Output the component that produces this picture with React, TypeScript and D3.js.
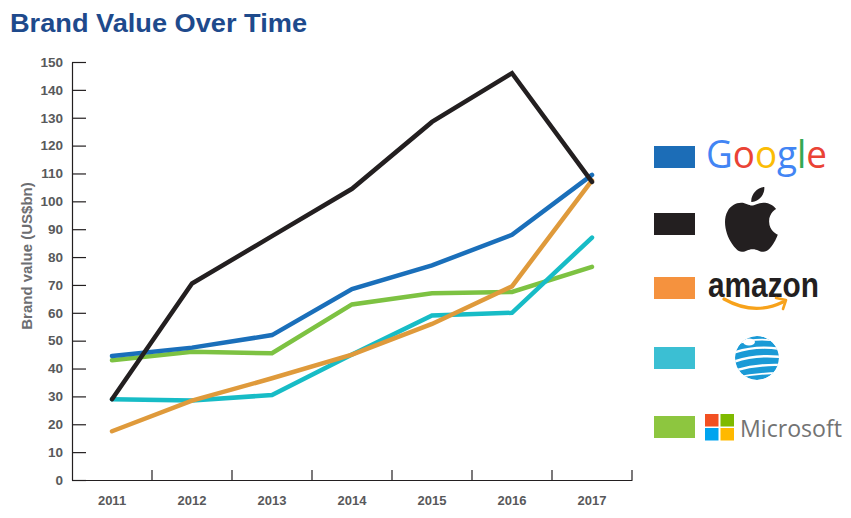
import React, { useRef, useEffect } from "react";
import * as d3 from "d3";

const years = ["2011", "2012", "2013", "2014", "2015", "2016", "2017"];
const google = [44.5, 47.5, 52, 68.5, 77, 88, 109.5];
const apple = [29, 70.5, 87.5, 104.5, 128.5, 146, 107];
const amazon = [17.5, 28.5, 36.5, 45, 56, 69.5, 107.5];
const att = [29, 28.5, 30.5, 45, 59, 60, 87];
const microsoft = [43, 46, 45.5, 63, 67, 67.5, 76.5];
const yTicks = [0, 10, 20, 30, 40, 50, 60, 70, 80, 90, 100, 110, 120, 130, 140, 150];

// drawing order: bottom first
const series = [
  { name: "Microsoft", values: microsoft, color: "#7dc242" },
  { name: "AT&T", values: att, color: "#17bcc6" },
  { name: "Google", values: google, color: "#1a6fba" },
  { name: "Amazon", values: amazon, color: "#df9a3b" },
  { name: "Apple", values: apple, color: "#231f20" },
];

const legendItems = [
  { name: "Google", color: "#1c6db7" },
  { name: "Apple", color: "#231f20" },
  { name: "Amazon", color: "#f5923e" },
  { name: "AT&T", color: "#3bbfd3" },
  { name: "Microsoft", color: "#8dc63f" },
];

const applePath =
  "M12.152 6.896c-.948 0-2.415-1.078-3.96-1.04-2.04.027-3.91 1.183-4.961 3.014-2.117 3.675-.546 9.103 1.519 12.09 1.013 1.454 2.208 3.09 3.792 3.039 1.52-.065 2.09-.987 3.935-.987 1.831 0 2.35.987 3.96.948 1.637-.026 2.676-1.48 3.676-2.948 1.156-1.688 1.636-3.325 1.662-3.415-.039-.013-3.182-1.221-3.22-4.857-.026-3.04 2.48-4.494 2.597-4.559-1.429-2.09-3.623-2.324-4.39-2.376-2-.156-3.675 1.09-4.61 1.09zM15.53 3.83c.843-1.012 1.4-2.427 1.245-3.83-1.207.052-2.662.805-3.532 1.818-.78.896-1.454 2.338-1.273 3.714 1.338.104 2.715-.688 3.559-1.701";

const W = 851;
const H = 518;
const x0 = 72, x1 = 632, yBottom = 480, yTop = 62;

export default function App() {
  const svgRef = useRef<SVGSVGElement | null>(null);

  const x = d3.scaleBand<string>().domain(years).range([x0, x1]);
  const y = d3.scaleLinear().domain([0, 150]).range([yBottom, yTop]);
  const cx = (yr: string) => (x(yr) ?? 0) + x.bandwidth() / 2;

  useEffect(() => {
    if (!svgRef.current) return;
    const svg = d3.select(svgRef.current);
    svg.selectAll(".axis").remove();

    // y axis: ticks point inward
    const yAxis = d3.axisLeft(y).tickValues(yTicks).tickSizeInner(-14).tickSizeOuter(0).tickPadding(9);
    const gy = svg.append("g").attr("class", "axis").attr("transform", `translate(${x0},0)`).call(yAxis);
    gy.selectAll("text")
      .attr("fill", "#58595b")
      .style("font-family", "Liberation Sans, Arial, sans-serif")
      .style("font-size", "13.5px")
      .style("font-weight", "bold");
    gy.selectAll("line,path").attr("stroke", "#231f20").attr("stroke-width", 1.2);

    // x axis: labels in band centers
    const xAxis = d3.axisBottom(x).tickSize(0).tickPadding(16);
    const gx = svg.append("g").attr("class", "axis").attr("transform", `translate(0,${yBottom})`).call(xAxis);
    gx.select(".domain").attr("stroke", "#231f20").attr("stroke-width", 1.2);
    gx.selectAll("text")
      .attr("fill", "#58595b")
      .style("font-family", "Liberation Sans, Arial, sans-serif")
      .style("font-size", "13px")
      .style("font-weight", "bold");

    // band boundary ticks
    svg.append("g").attr("class", "axis")
      .selectAll("line")
      .data(years)
      .join("line")
      .attr("x1", d => (x(d) ?? 0) + x.bandwidth())
      .attr("x2", d => (x(d) ?? 0) + x.bandwidth())
      .attr("y1", yBottom)
      .attr("y2", yBottom - 10)
      .attr("stroke", "#231f20")
      .attr("stroke-width", 1.2);
  }, []);

  const line = d3.line<number>()
    .x((_, i) => cx(years[i]))
    .y(d => y(d));

  const legendY = [157, 224, 288, 358, 427];

  return (
    <svg ref={svgRef} width={W} height={H} style={{ position: "absolute", left: 0, top: 0, background: "#fff" }}>
      <defs>
        <clipPath id="globe-clip">
          <circle cx={757} cy={358} r={22} />
        </clipPath>
      </defs>
      <text x={10} y={32} fill="#1e4a8c" textLength={297} lengthAdjust="spacingAndGlyphs"
        style={{ fontFamily: "Liberation Sans, Arial, sans-serif", fontSize: 26.5, fontWeight: "bold" }}>
        Brand Value Over Time
      </text>
      <text
        transform="translate(32,256) rotate(-90)"
        textAnchor="middle"
        fill="#6d6e71"
        style={{ fontFamily: "Liberation Sans, Arial, sans-serif", fontSize: 15, fontWeight: "bold" }}
      >
        Brand value (US$bn)
      </text>

      {series.map(s => (
        <path
          key={s.name}
          d={line(s.values) ?? ""}
          fill="none"
          stroke={s.color}
          strokeWidth={4.5}
          strokeLinecap="round"
          strokeLinejoin="miter"
        />
      ))}

      {legendItems.map((l, i) => (
        <rect key={l.name} x={654} y={legendY[i] - 11} width={41} height={22} fill={l.color} />
      ))}

      {/* Google */}
      <text x={706} y={168} textLength={121} lengthAdjust="spacingAndGlyphs"
        style={{ fontFamily: "Open Sans, Noto Sans, sans-serif", fontSize: 38 }}>
        <tspan fill="#4285f4">G</tspan>
        <tspan fill="#ea4335">o</tspan>
        <tspan fill="#fbbc05">o</tspan>
        <tspan fill="#4285f4">g</tspan>
        <tspan fill="#34a853">l</tspan>
        <tspan fill="#ea4335">e</tspan>
      </text>

      {/* Apple */}
      <path d={applePath} fill="#231f20" transform="translate(719,187) scale(2.7)" />

      {/* Amazon */}
      <text x={708} y={297} textLength={111} lengthAdjust="spacingAndGlyphs" fill="#231f20"
        style={{ fontFamily: "Liberation Sans, Arial, sans-serif", fontSize: 35, fontWeight: "bold" }}>
        amazon
      </text>
      <path d="M724,299 Q754,316 783,302" fill="none" stroke="#f7a21b" strokeWidth={3.2} strokeLinecap="round" />
      <path d="M776,298 L786,300 L783,309" fill="none" stroke="#f7a21b" strokeWidth={2.6} strokeLinecap="round" strokeLinejoin="round" />

      {/* AT&T globe */}
      <g clipPath="url(#globe-clip)">
        <circle cx={757} cy={358} r={22} fill="#1a9ad6" />
        <path d="M733,345 Q757,336 781,342" fill="none" stroke="#fff" strokeWidth={1.6} />
        <path d="M733,353 Q755,345 781,349" fill="none" stroke="#fff" strokeWidth={2.4} />
        <path d="M733,362 Q755,354 781,357" fill="none" stroke="#fff" strokeWidth={2.6} />
        <path d="M733,371 Q757,364 781,365" fill="none" stroke="#fff" strokeWidth={2.4} />
        <path d="M733,378 Q757,373 781,373" fill="none" stroke="#fff" strokeWidth={1.8} />
        <ellipse cx={749} cy={342} rx={6} ry={3.5} fill="#fff" />
      </g>

      {/* Microsoft */}
      <rect x={705} y={414} width={13.5} height={12.5} fill="#f25022" />
      <rect x={720.5} y={414} width={13.5} height={12.5} fill="#7fba00" />
      <rect x={705} y={428} width={13.5} height={12.5} fill="#00a4ef" />
      <rect x={720.5} y={428} width={13.5} height={12.5} fill="#ffb900" />
      <text x={740} y={437} textLength={102} lengthAdjust="spacingAndGlyphs" fill="#737373"
        style={{ fontFamily: "Open Sans, Noto Sans, sans-serif", fontSize: 24 }}>
        Microsoft
      </text>
    </svg>
  );
}
